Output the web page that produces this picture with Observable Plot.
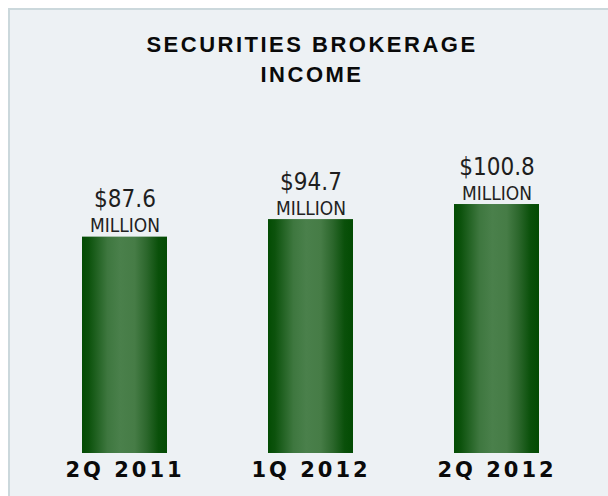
<!DOCTYPE html>
<html>
<head>
<meta charset="utf-8">
<script src="https://cdn.jsdelivr.net/npm/d3@7"></script>
<script src="https://cdn.jsdelivr.net/npm/@observablehq/plot@0.6"></script>
<style>
  html, body { margin: 0; padding: 0; background: #ffffff; width: 608px; height: 496px; overflow: hidden; }
  #wrap { position: relative; width: 608px; height: 496px; }
  #panel { position: absolute; left: 8px; top: 8px; width: 700px; height: 600px;
           background: #edf1f4; border-left: 2px solid #cbd8dc; border-top: 2px solid #cbd8dc; }
  #title { position: absolute; left: 0; top: 30px; width: 624px; text-align: center;
           font-family: "Liberation Sans", Arial, sans-serif; font-weight: bold; font-size: 22px;
           line-height: 29.5px; letter-spacing: 2.5px; color: #0a0a0a; }
  #chart { position: absolute; left: 0; top: 0; }
  #chart svg { background: transparent; overflow: visible; }
</style>
</head>
<body>
<div id="wrap">
  <div id="panel"></div>
  <div id="chart"></div>
  <div id="title">SECURITIES BROKERAGE<br>INCOME</div>
</div>
<script>
const quarters = ["2Q 2011", "1Q 2012", "2Q 2012"];
const income = [87.6, 94.7, 100.8];
const valueLabels = ["$87.6", "$94.7", "$100.8"];
const unitLabel = "MILLION";

const data = quarters.map((q, i) => ({quarter: q, value: income[i], label: valueLabels[i]}));

const chart = Plot.plot({
  width: 608,
  height: 496,
  marginTop: 206,
  marginBottom: 43,
  marginLeft: 81,
  marginRight: 68,
  style: {background: "transparent", color: "#0a0a0a"},
  x: {domain: quarters, paddingInner: 0.545, paddingOuter: 0, label: null, axis: null},
  y: {domain: [0, 100], axis: null},
  marks: [
    Plot.barY(data, {x: "quarter", y: "value", fill: "url(#barGrad)", ariaLabel: "bars"}),
    Plot.text(data, {x: "quarter", y: "value", text: "label", dy: -30, lineAnchor: "bottom",
      fontSize: 24, fontFamily: "DejaVu Sans Condensed", fill: "#1e1e1e", ariaLabel: "value label"}),
    Plot.text(data, {x: "quarter", y: "value", text: () => unitLabel, dy: -5, lineAnchor: "bottom",
      fontSize: 19, fontFamily: "DejaVu Sans Condensed", fill: "#222222", ariaLabel: "unit label"}),
    Plot.axisX({tickSize: 0, tickPadding: 9, fontSize: 21, fontWeight: "bold",
      fontFamily: "DejaVu Sans", label: null})
  ]
});

document.getElementById("chart").appendChild(chart);

// gradient definition for the bars
const svg = d3.select(chart);
const defs = svg.insert("defs", ":first-child");
const grad = defs.append("linearGradient").attr("id", "barGrad")
  .attr("x1", "0%").attr("x2", "100%").attr("y1", "0%").attr("y2", "0%");
[[0, "#034c03"], [0.08, "#0c520c"], [0.3, "#3e773f"], [0.45, "#4a804b"], [0.62, "#467c46"],
 [0.76, "#2c672c"], [0.9, "#0a500a"], [1, "#034b03"]].forEach(([o, c]) =>
  grad.append("stop").attr("offset", o).attr("stop-color", c));
svg.selectAll('g[aria-label="bars"] rect').attr("fill", "url(#barGrad)");
svg.selectAll('g[aria-label="value label"]').style("letter-spacing", "1px");
svg.selectAll('g[aria-label="unit label"]').style("letter-spacing", "0.3px");
svg.selectAll('g[aria-label="x-axis tick label"]')
  .style("letter-spacing", "3px").style("font-size", "21px").style("font-weight", "bold")
  .attr("fill", "#0a0a0a");
</script>
</body>
</html>
